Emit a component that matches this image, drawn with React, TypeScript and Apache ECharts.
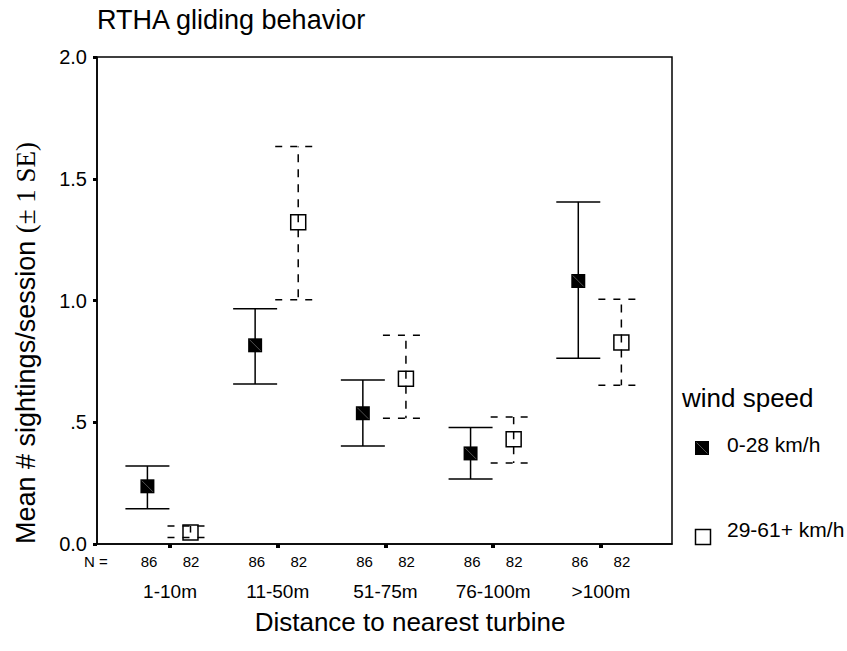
import React, { useEffect, useRef } from "react";
import * as echarts from "echarts";

const categories = ["1-10m", "11-50m", "51-75m", "76-100m", ">100m"];
const nLow = [86, 86, 86, 86, 86];
const nHigh = [82, 82, 82, 82, 82];

// 0-28 km/h
const lowMean = [0.237, 0.816, 0.537, 0.372, 1.08];
const lowLower = [0.145, 0.657, 0.402, 0.267, 0.763];
const lowUpper = [0.32, 0.966, 0.673, 0.478, 1.405];

// 29-61+ km/h
const highMean = [0.047, 1.321, 0.679, 0.43, 0.828];
const highLower = [0.027, 1.003, 0.516, 0.333, 0.652];
const highUpper = [0.074, 1.632, 0.857, 0.522, 1.005];

const yTickLabels: Record<string, string> = { "0": "0.0", "0.5": ".5", "1": "1.0", "1.5": "1.5", "2": "2.0" };

const SANS = "'Liberation Sans', Arial, sans-serif";
const SERIF = "'Liberation Serif', 'Times New Roman', serif";
const INK = "#000";

export default function App() {
  const ref = useRef<HTMLDivElement>(null);
  useEffect(() => {
    if (!ref.current) return;
    const chart = echarts.init(ref.current, null, { renderer: "svg" });

    const lowData = categories.map((_, i) => [i + 1, lowMean[i], lowLower[i], lowUpper[i]]);
    const highData = categories.map((_, i) => [i + 1, highMean[i], highLower[i], highUpper[i]]);

    const renderLow = (params: any, api: any) => {
      const x = api.value(0) - 0.21;
      const m = api.coord([x, api.value(1)]);
      const lo = api.coord([x, api.value(2)]);
      const up = api.coord([x, api.value(3)]);
      const px = m[0];
      const s = 14;
      const ls = { stroke: INK, lineWidth: 1.5 };
      return {
        type: "group",
        children: [
          { type: "line", shape: { x1: px, y1: up[1], x2: px, y2: lo[1] }, style: ls },
          { type: "line", shape: { x1: px - 22, y1: up[1], x2: px + 22, y2: up[1] }, style: ls },
          { type: "line", shape: { x1: px - 22, y1: lo[1], x2: px + 22, y2: lo[1] }, style: ls },
          { type: "rect", shape: { x: px - s / 2, y: m[1] - s / 2, width: s, height: s }, style: { fill: INK } },
          {
            type: "line",
            shape: { x1: px - s / 2 + 1.5, y1: m[1] - s / 2 + 1.5, x2: px + s / 2 - 1.5, y2: m[1] + s / 2 - 1.5 },
            style: { stroke: "#777", lineWidth: 0.7 },
          },
        ],
      };
    };

    const renderHigh = (params: any, api: any) => {
      const x = api.value(0) + 0.19;
      const m = api.coord([x, api.value(1)]);
      const lo = api.coord([x, api.value(2)]);
      const up = api.coord([x, api.value(3)]);
      const px = m[0];
      const s = 15;
      return {
        type: "group",
        children: [
          {
            type: "rect",
            shape: { x: px - s / 2, y: m[1] - s / 2, width: s, height: s },
            style: { fill: "#fff", stroke: INK, lineWidth: 1.5 },
          },
          {
            type: "line",
            shape: { x1: px, y1: m[1], x2: px, y2: up[1] },
            style: { stroke: INK, lineWidth: 1.5, lineDash: [8, 7] },
          },
          {
            type: "line",
            shape: { x1: px, y1: m[1], x2: px, y2: lo[1] },
            style: { stroke: INK, lineWidth: 1.5, lineDash: [8, 7], lineDashOffset: 8 },
          },
          {
            type: "line",
            shape: { x1: px - 23, y1: up[1], x2: px + 14, y2: up[1] },
            style: { stroke: INK, lineWidth: 1.5, lineDash: [7, 8] },
          },
          {
            type: "line",
            shape: { x1: px - 23, y1: lo[1], x2: px + 14, y2: lo[1] },
            style: { stroke: INK, lineWidth: 1.5, lineDash: [7, 8] },
          },
        ],
      };
    };

    const tickVals = categories.map((_, i) => i + 1);

    chart.setOption({
      animation: false,
      backgroundColor: "#fff",
      textStyle: { fontFamily: SANS, color: INK },
      grid: {
        left: 97,
        right: 175,
        top: 57,
        bottom: 107,
        show: true,
        borderColor: INK,
        borderWidth: 1.5,
        backgroundColor: "transparent",
      },
      xAxis: {
        type: "value",
        min: 0.322,
        max: 5.66,
        splitLine: { show: false },
        axisLine: { show: true, onZero: false, lineStyle: { color: INK, width: 1.5 } },
        axisTick: { show: true, customValues: tickVals, length: 4, lineStyle: { color: INK, width: 4 } },
        axisLabel: {
          show: true,
          customValues: tickVals,
          margin: 8,
          color: INK,
          fontFamily: SANS,
          formatter: (v: number) => {
            const i = Math.round(v) - 1;
            return `{a|${nLow[i]}}{b|${nHigh[i]}}\n{c|${categories[i]}}`;
          },
          rich: {
            a: { width: 42, align: "center", fontSize: 15, lineHeight: 18, fontFamily: SANS, color: INK },
            b: { width: 42, align: "center", fontSize: 15, lineHeight: 18, fontFamily: SANS, color: INK },
            c: { fontSize: 19, lineHeight: 42, fontFamily: SANS, color: INK },
          },
        },
      },
      yAxis: {
        type: "value",
        min: 0,
        max: 2,
        interval: 0.5,
        splitLine: { show: false },
        axisLine: { show: true, lineStyle: { color: INK, width: 1.5 } },
        axisTick: { show: true, length: 4, lineStyle: { color: INK, width: 3 } },
        axisLabel: {
          margin: 10,
          fontSize: 20,
          color: INK,
          fontFamily: SANS,
          formatter: (v: number) => yTickLabels[String(v)] ?? String(v),
        },
      },
      graphic: [
        {
          type: "text",
          left: 97,
          top: 6,
          style: { text: "RTHA gliding behavior", fontSize: 27, fontFamily: SANS, fill: INK },
        },
        {
          type: "text",
          x: 410,
          y: 622,
          style: {
            text: "Distance to nearest turbine",
            fontSize: 26,
            fontFamily: SANS,
            fill: INK,
            align: "center",
            verticalAlign: "middle",
          },
        },
        {
          type: "text",
          x: 26,
          y: 343,
          rotation: Math.PI / 2,
          style: {
            text: "{a|Mean # sightings/session }{b|(± 1 SE)}",
            align: "center",
            verticalAlign: "middle",
            rich: {
              a: { fontSize: 27, fontFamily: SANS, fill: INK },
              b: { fontSize: 27, fontFamily: SERIF, fill: INK },
            },
          },
        },
        {
          type: "text",
          x: 84,
          y: 561,
          style: { text: "N =", fontSize: 15, fontFamily: SANS, fill: INK, verticalAlign: "middle" },
        },
        {
          type: "text",
          x: 682,
          y: 398,
          style: { text: "wind speed", fontSize: 26, fontFamily: SANS, fill: INK, verticalAlign: "middle" },
        },
        {
          type: "rect",
          shape: { x: 695, y: 441, width: 14, height: 14 },
          style: { fill: INK },
        },
        {
          type: "line",
          shape: { x1: 696.5, y1: 442.5, x2: 707.5, y2: 453.5 },
          style: { stroke: "#777", lineWidth: 0.7 },
        },
        {
          type: "text",
          x: 727,
          y: 444,
          style: { text: "0-28 km/h", fontSize: 21, fontFamily: SANS, fill: INK, verticalAlign: "middle" },
        },
        {
          type: "rect",
          shape: { x: 695.5, y: 529.5, width: 15, height: 15 },
          style: { fill: "#fff", stroke: INK, lineWidth: 1.5 },
        },
        {
          type: "text",
          x: 727,
          y: 529,
          style: { text: "29-61+ km/h", fontSize: 21, fontFamily: SANS, fill: INK, verticalAlign: "middle" },
        },
      ],
      series: [
        {
          name: "0-28 km/h",
          type: "custom",
          renderItem: renderLow,
          data: lowData,
          encode: { x: 0, y: [1, 2, 3] },
          z: 3,
        },
        {
          name: "29-61+ km/h",
          type: "custom",
          renderItem: renderHigh,
          data: highData,
          encode: { x: 0, y: [1, 2, 3] },
          z: 3,
        },
      ],
    });

    return () => chart.dispose();
  }, []);

  return (
    <div
      ref={ref}
      style={{ position: "fixed", left: 0, top: 0, width: 847, height: 651, background: "#fff" }}
    />
  );
}
